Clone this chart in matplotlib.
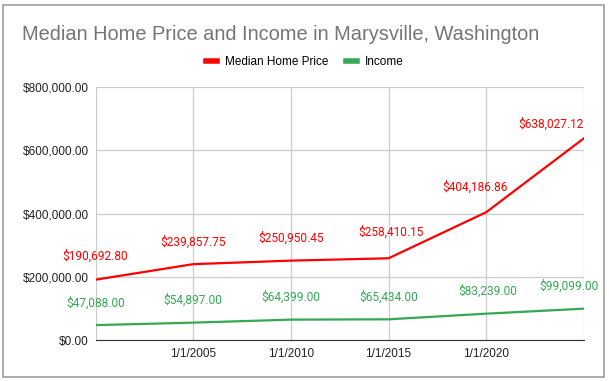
import datetime as dt
import matplotlib
matplotlib.use("Agg")
import matplotlib.pyplot as plt
import matplotlib.dates as mdates
from matplotlib.lines import Line2D
from matplotlib.patches import Rectangle

years = [2000, 2005, 2010, 2015, 2020, 2025]
home_price = [190692.80, 239857.75, 250950.45, 258410.15, 404186.86, 638027.12]
income = [47088.00, 54897.00, 64399.00, 65434.00, 83239.00, 99099.00]
tick_years = [2005, 2010, 2015, 2020]

dates = [dt.date(y, 1, 1) for y in years]

RED = "#ff0000"
GREEN = "#34a853"

fig = plt.figure(figsize=(6.09, 3.81), dpi=100)
fig.patches.append(Rectangle((3 / 609, 4 / 381), 601 / 609, 372 / 381,
                             transform=fig.transFigure, fill=False,
                             edgecolor="#9e9e9e", linewidth=1.2))

ax = fig.add_axes([95.5 / 609, 41 / 381, 488.5 / 609, 253 / 381])
ax.plot(dates, home_price, color=RED, linewidth=1.6, solid_joinstyle="round")
ax.plot(dates, income, color=GREEN, linewidth=1.6, solid_joinstyle="round")

ax.set_xlim(dates[0], dates[-1])
ax.set_ylim(0, 800000)
ax.set_yticks([0, 200000, 400000, 600000, 800000])
ax.yaxis.set_major_formatter(lambda v, p: "${:,.2f}".format(v))
ax.set_xticks([dt.date(y, 1, 1) for y in tick_years])
ax.xaxis.set_major_formatter(mdates.DateFormatter("1/1/%Y"))

# vertical grid lines at every data date
for d in dates:
    ax.axvline(d, color="#cccccc", linewidth=0.9, zorder=0)
ax.yaxis.grid(True, color="#cccccc", linewidth=0.9, zorder=0)
ax.set_axisbelow(True)

for s in ["top", "right", "left"]:
    ax.spines[s].set_visible(False)
ax.spines["bottom"].set_color("#333333")
ax.tick_params(axis="both", length=0, labelsize=8.5, labelcolor="#222222",
               labelfontfamily="Liberation Sans")
ax.tick_params(axis="y", pad=5)
ax.tick_params(axis="x", pad=6)

# data labels (offsets in points)
red_off = [(0, 17), (0, 16), (0, 16), (2, 19), (-8, 18), (0, 10)]
red_ha = ["center"] * 5 + ["right"]
green_off = [(0, 16), (0, 16), (0, 16), (0, 16), (1, 16), (-11, 16)]
for d, v, o, ha in zip(dates, home_price, red_off, red_ha):
    ax.annotate("${:,.2f}".format(v), (d, v), xytext=o, textcoords="offset points",
                ha=ha, va="center", color=RED, fontsize=8.6, family="Roboto",
                annotation_clip=False)
for d, v, o in zip(dates, income, green_off):
    ax.annotate("${:,.2f}".format(v), (d, v), xytext=o, textcoords="offset points",
                ha="center", va="center", color=GREEN, fontsize=8.6, family="Roboto",
                annotation_clip=False)

fig.text(22 / 609, 1 - 34 / 381, "Median Home Price and Income in Marysville, Washington",
         ha="left", va="center", fontsize=14.4, color="#757575", family="Liberation Sans")

handles = [Line2D([], [], color=RED, linewidth=4),
           Line2D([], [], color=GREEN, linewidth=4)]
fig.legend(handles, ["Median Home Price", "Income"], loc="center",
           bbox_to_anchor=(305 / 609, 1 - 62 / 381), ncol=2, frameon=False,
           handlelength=0.9, handletextpad=0.7, columnspacing=1.5,
           prop={"family": "Liberation Sans", "size": 8.5})

fig.savefig("out.png", dpi=100)
